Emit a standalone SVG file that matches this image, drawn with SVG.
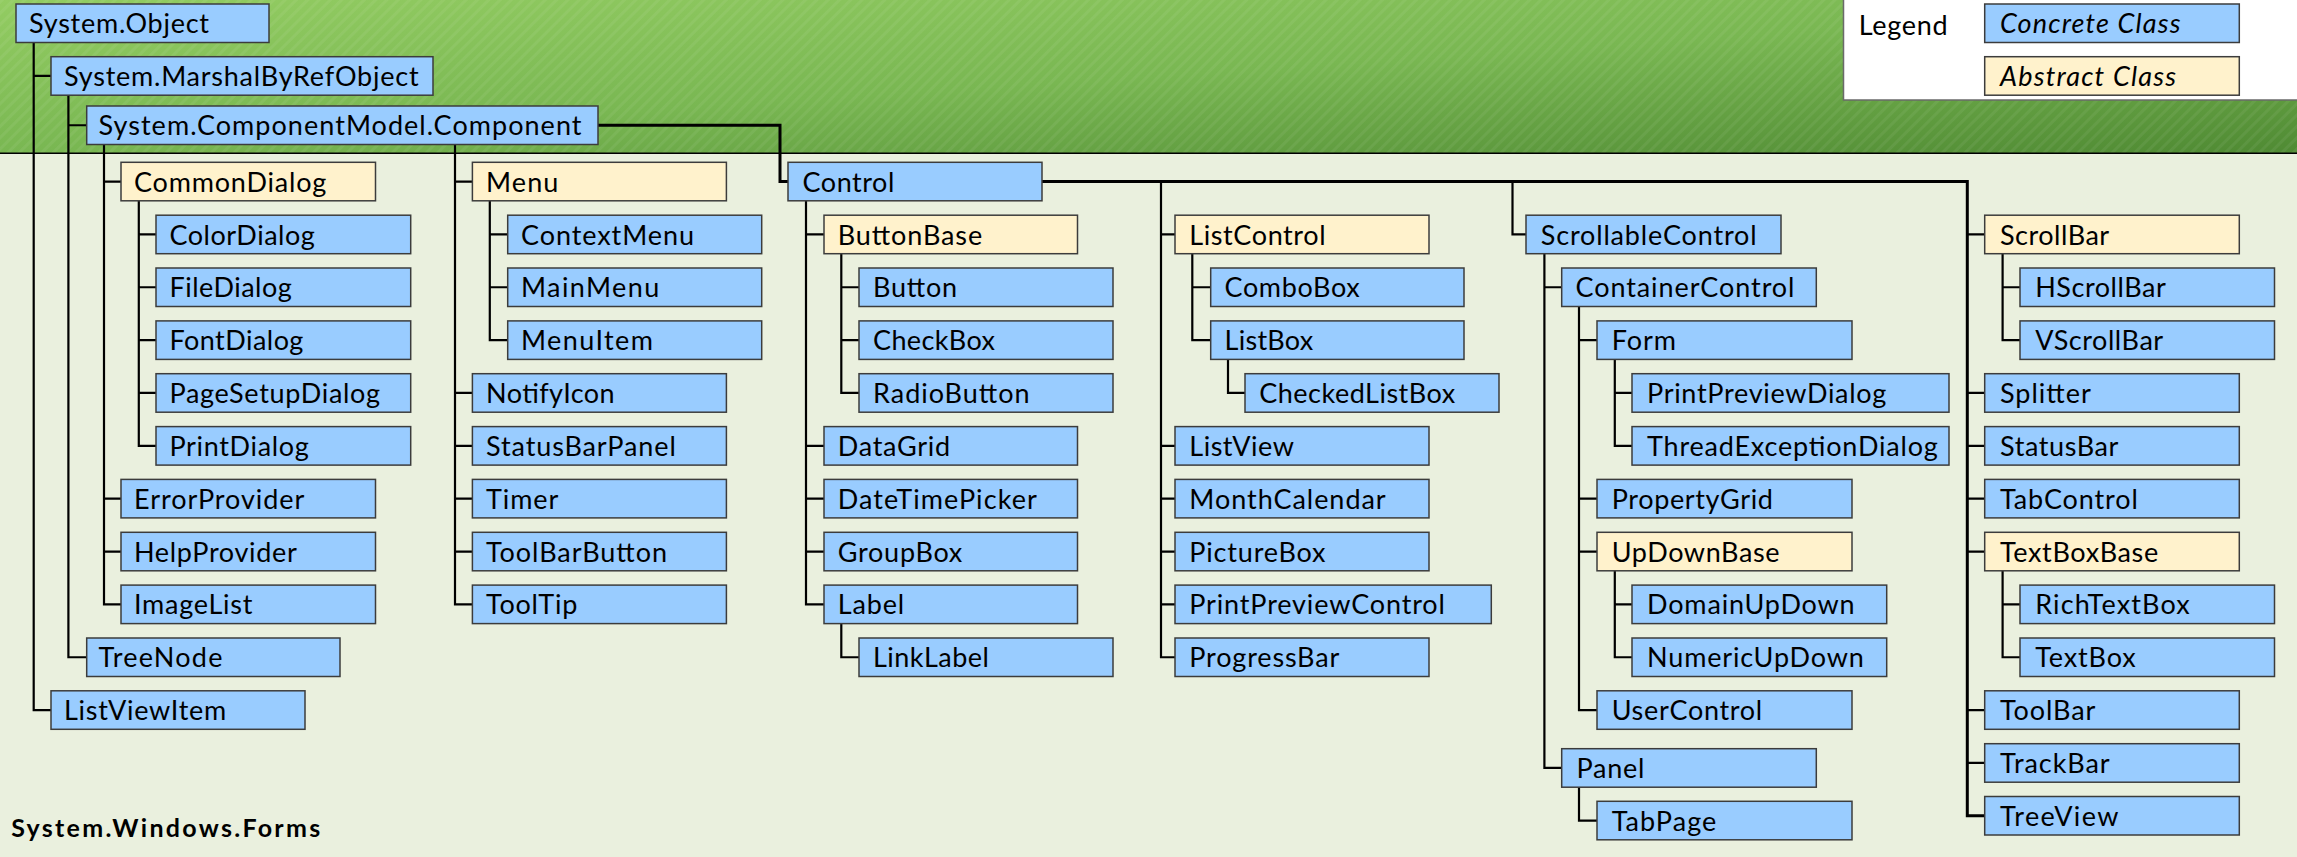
<svg xmlns="http://www.w3.org/2000/svg" width="2297" height="857" viewBox="0 0 2297 857">
<defs>
<linearGradient id="gtop" x1="0" y1="0" x2="1" y2="1">
<stop offset="0" stop-color="#93cc62"/>
<stop offset="0.5" stop-color="#79b752"/>
<stop offset="1" stop-color="#4f8a33"/>
</linearGradient>
<pattern id="hatch" patternUnits="userSpaceOnUse" width="8" height="8" patternTransform="rotate(-45)">
<rect width="8" height="3" fill="#ffffff" fill-opacity="0.06"/>
</pattern>
<style>
.c{fill:#99ccff;stroke:#3c3c3c;stroke-width:1.5}
.a{fill:#fff2cc;stroke:#3c3c3c;stroke-width:1.5}
.t{font-family:Lato,"Liberation Sans",sans-serif;font-size:27px;fill:#000}
.i{font-style:italic}
.b{font-weight:bold;font-size:25px}
.ln{fill:none;stroke:#000;stroke-width:2.2}
.lt{fill:none;stroke:#000;stroke-width:3}
</style>
</defs>
<rect x="0" y="0" width="2297" height="857" fill="#eaf0de"/>
<rect x="0" y="0" width="2297" height="153" fill="url(#gtop)"/>
<rect x="0" y="0" width="2297" height="153" fill="url(#hatch)"/>
<line x1="0" y1="153.3" x2="2297" y2="153.3" stroke="#000" stroke-width="1.5"/>
<g id="legend">
<rect x="1843.5" y="-1" width="455" height="101" fill="#ffffff" stroke="#6a6a6a" stroke-width="1.5"/>
<text class="t" x="1858.7" y="35" textLength="88.8" lengthAdjust="spacing">Legend</text>
<rect class="c" x="1984.7" y="4" width="254.6" height="38.5"/>
<text class="t i" x="2000" y="33.3" textLength="180.6" lengthAdjust="spacing">Concrete Class</text>
<rect class="a" x="1984.7" y="56.7" width="254.6" height="38.5"/>
<text class="t i" x="2000" y="86" textLength="176" lengthAdjust="spacing">Abstract Class</text>
</g>
<text class="t b" x="11.2" y="836.7" textLength="309" lengthAdjust="spacing">System.Windows.Forms</text>
<g id="connectors">
<path class="ln" d="M33.7,42.5V710.05H51M33.7,75.95H51"/>
<path class="ln" d="M68.4,95.2V657.25H86.7M68.4,125.25H86.7"/>
<path class="ln" d="M104,144.5V604.35H121M104,181.55H121M104,498.65H121M104,551.55H121"/>
<path class="ln" d="M138.8,200.8V445.85H156M138.8,234.45H156M138.8,287.25H156M138.8,340.15H156M138.8,392.95H156"/>
<path class="ln" d="M455,144.5V604.35H472.4M455,181.55H472.4M455,392.95H472.4M455,445.85H472.4M455,498.65H472.4M455,551.55H472.4"/>
<path class="ln" d="M489.8,200.8V340.15H507.7M489.8,234.45H507.7M489.8,287.25H507.7"/>
<path class="lt" d="M598,125.25H780V181.55H788"/>
<path class="ln" d="M806,200.8V604.35H824M806,234.45H824M806,445.85H824M806,498.65H824M806,551.55H824"/>
<path class="ln" d="M841.3,253.7V392.95H859M841.3,287.25H859M841.3,340.15H859"/>
<path class="ln" d="M841.3,623.6V657.25H859"/>
<path class="lt" d="M1042,181.55H1967.3V815.75H1984.7"/>
<path class="ln" d="M1161,181.55V657.25H1175M1161,234.45H1175M1161,445.85H1175M1161,498.65H1175M1161,551.55H1175M1161,604.35H1175"/>
<path class="ln" d="M1192.3,253.7V340.15H1210.7M1192.3,287.25H1210.7"/>
<path class="ln" d="M1228,359.4V392.95H1245"/>
<path class="ln" d="M1512.5,181.55V234.45H1526"/>
<path class="ln" d="M1544.4,253.7V767.95H1561.7M1544.4,287.25H1561.7"/>
<path class="ln" d="M1579,306.5V710.05H1597M1579,340.15H1597M1579,498.65H1597M1579,551.55H1597"/>
<path class="ln" d="M1614.8,359.4V445.85H1632M1614.8,392.95H1632"/>
<path class="ln" d="M1614.8,570.8V657.25H1632M1614.8,604.35H1632"/>
<path class="ln" d="M1579,787.2V820.55H1597"/>
<path class="ln" d="M1967.3,234.45H1984.7M1967.3,392.95H1984.7M1967.3,445.85H1984.7M1967.3,498.65H1984.7M1967.3,551.55H1984.7M1967.3,710.05H1984.7M1967.3,762.95H1984.7"/>
<path class="ln" d="M2002.6,253.7V340.15H2020M2002.6,287.25H2020"/>
<path class="ln" d="M2002.6,570.8V657.25H2020M2002.6,604.35H2020"/>
</g>
<g id="n-object"><rect class="c" x="16" y="4" width="253" height="38.5"/><text class="t" x="29" y="33.3" textLength="180" lengthAdjust="spacing">System.Object</text></g>
<g id="n-marshal"><rect class="c" x="51" y="56.7" width="382" height="38.5"/><text class="t" x="64" y="86" textLength="354.6" lengthAdjust="spacing">System.MarshalByRefObject</text></g>
<g id="n-component"><rect class="c" x="86.7" y="106" width="511.3" height="38.5"/><text class="t" x="98.5" y="135.3" textLength="483" lengthAdjust="spacing">System.ComponentModel.Component</text></g>
<g id="n-commondialog"><rect class="a" x="121" y="162.3" width="254.5" height="38.5"/><text class="t" x="134" y="191.6" textLength="192.3" lengthAdjust="spacing">CommonDialog</text></g>
<g id="n-colordialog"><rect class="c" x="156" y="215.2" width="254.7" height="38.5"/><text class="t" x="169.4" y="244.5" textLength="145.4" lengthAdjust="spacing">ColorDialog</text></g>
<g id="n-filedialog"><rect class="c" x="156" y="268" width="254.7" height="38.5"/><text class="t" x="169.4" y="297.3" textLength="122.4" lengthAdjust="spacing">FileDialog</text></g>
<g id="n-fontdialog"><rect class="c" x="156" y="320.9" width="254.7" height="38.5"/><text class="t" x="169.4" y="350.2" textLength="134" lengthAdjust="spacing">FontDialog</text></g>
<g id="n-pagesetupdialog"><rect class="c" x="156" y="373.7" width="254.7" height="38.5"/><text class="t" x="169.4" y="403" textLength="210.7" lengthAdjust="spacing">PageSetupDialog</text></g>
<g id="n-printdialog"><rect class="c" x="156" y="426.6" width="254.7" height="38.5"/><text class="t" x="169.4" y="455.9" textLength="139.3" lengthAdjust="spacing">PrintDialog</text></g>
<g id="n-errorprovider"><rect class="c" x="121" y="479.4" width="254.5" height="38.5"/><text class="t" x="134" y="508.7" textLength="170.4" lengthAdjust="spacing">ErrorProvider</text></g>
<g id="n-helpprovider"><rect class="c" x="121" y="532.3" width="254.5" height="38.5"/><text class="t" x="134" y="561.6" textLength="162.8" lengthAdjust="spacing">HelpProvider</text></g>
<g id="n-imagelist"><rect class="c" x="121" y="585.1" width="254.5" height="38.5"/><text class="t" x="134" y="614.4" textLength="118.4" lengthAdjust="spacing">ImageList</text></g>
<g id="n-treenode"><rect class="c" x="86.7" y="638" width="253.3" height="38.5"/><text class="t" x="98.5" y="667.3" textLength="124" lengthAdjust="spacing">TreeNode</text></g>
<g id="n-listviewitem"><rect class="c" x="51" y="690.8" width="254" height="38.5"/><text class="t" x="64" y="720.1" textLength="162.2" lengthAdjust="spacing">ListViewItem</text></g>
<g id="n-menu"><rect class="a" x="472.4" y="162.3" width="254" height="38.5"/><text class="t" x="486" y="191.6" textLength="72.4" lengthAdjust="spacing">Menu</text></g>
<g id="n-contextmenu"><rect class="c" x="507.7" y="215.2" width="254" height="38.5"/><text class="t" x="521" y="244.5" textLength="173" lengthAdjust="spacing">ContextMenu</text></g>
<g id="n-mainmenu"><rect class="c" x="507.7" y="268" width="254" height="38.5"/><text class="t" x="521" y="297.3" textLength="138.3" lengthAdjust="spacing">MainMenu</text></g>
<g id="n-menuitem"><rect class="c" x="507.7" y="320.9" width="254" height="38.5"/><text class="t" x="521" y="350.2" textLength="132" lengthAdjust="spacing">MenuItem</text></g>
<g id="n-notifyicon"><rect class="c" x="472.4" y="373.7" width="254" height="38.5"/><text class="t" x="486" y="403" textLength="128.6" lengthAdjust="spacing">NotifyIcon</text></g>
<g id="n-statusbarpanel"><rect class="c" x="472.4" y="426.6" width="254" height="38.5"/><text class="t" x="486" y="455.9" textLength="189.8" lengthAdjust="spacing">StatusBarPanel</text></g>
<g id="n-timer"><rect class="c" x="472.4" y="479.4" width="254" height="38.5"/><text class="t" x="486" y="508.7" textLength="72.4" lengthAdjust="spacing">Timer</text></g>
<g id="n-toolbarbutton"><rect class="c" x="472.4" y="532.3" width="254" height="38.5"/><text class="t" x="486" y="561.6" textLength="181" lengthAdjust="spacing">ToolBarButton</text></g>
<g id="n-tooltip"><rect class="c" x="472.4" y="585.1" width="254" height="38.5"/><text class="t" x="486" y="614.4" textLength="91.3" lengthAdjust="spacing">ToolTip</text></g>
<g id="n-control"><rect class="c" x="788" y="162.3" width="254" height="38.5"/><text class="t" x="802.5" y="191.6" textLength="91.8" lengthAdjust="spacing">Control</text></g>
<g id="n-buttonbase"><rect class="a" x="824" y="215.2" width="253.5" height="38.5"/><text class="t" x="837.8" y="244.5" textLength="144.4" lengthAdjust="spacing">ButtonBase</text></g>
<g id="n-button"><rect class="c" x="859" y="268" width="254" height="38.5"/><text class="t" x="873" y="297.3" textLength="84.2" lengthAdjust="spacing">Button</text></g>
<g id="n-checkbox"><rect class="c" x="859" y="320.9" width="254" height="38.5"/><text class="t" x="873" y="350.2" textLength="122" lengthAdjust="spacing">CheckBox</text></g>
<g id="n-radiobutton"><rect class="c" x="859" y="373.7" width="254" height="38.5"/><text class="t" x="873" y="403" textLength="156.6" lengthAdjust="spacing">RadioButton</text></g>
<g id="n-datagrid"><rect class="c" x="824" y="426.6" width="253.5" height="38.5"/><text class="t" x="837.8" y="455.9" textLength="112.2" lengthAdjust="spacing">DataGrid</text></g>
<g id="n-datetimepicker"><rect class="c" x="824" y="479.4" width="253.5" height="38.5"/><text class="t" x="837.8" y="508.7" textLength="199" lengthAdjust="spacing">DateTimePicker</text></g>
<g id="n-groupbox"><rect class="c" x="824" y="532.3" width="253.5" height="38.5"/><text class="t" x="837.8" y="561.6" textLength="124.5" lengthAdjust="spacing">GroupBox</text></g>
<g id="n-label"><rect class="c" x="824" y="585.1" width="253.5" height="38.5"/><text class="t" x="837.8" y="614.4" textLength="66.3" lengthAdjust="spacing">Label</text></g>
<g id="n-linklabel"><rect class="c" x="859" y="638" width="254" height="38.5"/><text class="t" x="873" y="667.3" textLength="115.8" lengthAdjust="spacing">LinkLabel</text></g>
<g id="n-listcontrol"><rect class="a" x="1175" y="215.2" width="254" height="38.5"/><text class="t" x="1189.3" y="244.5" textLength="136.2" lengthAdjust="spacing">ListControl</text></g>
<g id="n-combobox"><rect class="c" x="1210.7" y="268" width="253.3" height="38.5"/><text class="t" x="1224.5" y="297.3" textLength="135.2" lengthAdjust="spacing">ComboBox</text></g>
<g id="n-listbox"><rect class="c" x="1210.7" y="320.9" width="253.3" height="38.5"/><text class="t" x="1224.5" y="350.2" textLength="88.8" lengthAdjust="spacing">ListBox</text></g>
<g id="n-checkedlistbox"><rect class="c" x="1245" y="373.7" width="254" height="38.5"/><text class="t" x="1259.2" y="403" textLength="196" lengthAdjust="spacing">CheckedListBox</text></g>
<g id="n-listview"><rect class="c" x="1175" y="426.6" width="254" height="38.5"/><text class="t" x="1189.3" y="455.9" textLength="104.6" lengthAdjust="spacing">ListView</text></g>
<g id="n-monthcalendar"><rect class="c" x="1175" y="479.4" width="254" height="38.5"/><text class="t" x="1189.3" y="508.7" textLength="196.4" lengthAdjust="spacing">MonthCalendar</text></g>
<g id="n-picturebox"><rect class="c" x="1175" y="532.3" width="254" height="38.5"/><text class="t" x="1189.3" y="561.6" textLength="136.2" lengthAdjust="spacing">PictureBox</text></g>
<g id="n-printpreviewcontrol"><rect class="c" x="1175" y="585.1" width="316.3" height="38.5"/><text class="t" x="1189.3" y="614.4" textLength="255.6" lengthAdjust="spacing">PrintPreviewControl</text></g>
<g id="n-progressbar"><rect class="c" x="1175" y="638" width="254" height="38.5"/><text class="t" x="1189.3" y="667.3" textLength="150" lengthAdjust="spacing">ProgressBar</text></g>
<g id="n-scrollablecontrol"><rect class="c" x="1526" y="215.2" width="255" height="38.5"/><text class="t" x="1540.8" y="244.5" textLength="215.8" lengthAdjust="spacing">ScrollableControl</text></g>
<g id="n-containercontrol"><rect class="c" x="1561.7" y="268" width="254.6" height="38.5"/><text class="t" x="1575.5" y="297.3" textLength="218.9" lengthAdjust="spacing">ContainerControl</text></g>
<g id="n-form"><rect class="c" x="1597" y="320.9" width="255" height="38.5"/><text class="t" x="1611.7" y="350.2" textLength="64.3" lengthAdjust="spacing">Form</text></g>
<g id="n-printpreviewdialog"><rect class="c" x="1632" y="373.7" width="317" height="38.5"/><text class="t" x="1647" y="403" textLength="239.3" lengthAdjust="spacing">PrintPreviewDialog</text></g>
<g id="n-threadexceptiondialog"><rect class="c" x="1632" y="426.6" width="317" height="38.5"/><text class="t" x="1647" y="455.9" textLength="290.8" lengthAdjust="spacing">ThreadExceptionDialog</text></g>
<g id="n-propertygrid"><rect class="c" x="1597" y="479.4" width="255" height="38.5"/><text class="t" x="1611.7" y="508.7" textLength="161.2" lengthAdjust="spacing">PropertyGrid</text></g>
<g id="n-updownbase"><rect class="a" x="1597" y="532.3" width="255" height="38.5"/><text class="t" x="1611.7" y="561.6" textLength="167.9" lengthAdjust="spacing">UpDownBase</text></g>
<g id="n-domainupdown"><rect class="c" x="1632" y="585.1" width="254.7" height="38.5"/><text class="t" x="1647" y="614.4" textLength="207.7" lengthAdjust="spacing">DomainUpDown</text></g>
<g id="n-numericupdown"><rect class="c" x="1632" y="638" width="254.7" height="38.5"/><text class="t" x="1647" y="667.3" textLength="216.8" lengthAdjust="spacing">NumericUpDown</text></g>
<g id="n-usercontrol"><rect class="c" x="1597" y="690.8" width="255" height="38.5"/><text class="t" x="1611.7" y="720.1" textLength="150.5" lengthAdjust="spacing">UserControl</text></g>
<g id="n-panel"><rect class="c" x="1561.7" y="748.7" width="254.6" height="38.5"/><text class="t" x="1576.5" y="778" textLength="67.9" lengthAdjust="spacing">Panel</text></g>
<g id="n-tabpage"><rect class="c" x="1597" y="801.3" width="255" height="38.5"/><text class="t" x="1611.7" y="830.6" textLength="104.6" lengthAdjust="spacing">TabPage</text></g>
<g id="n-scrollbar"><rect class="a" x="1984.7" y="215.2" width="254.6" height="38.5"/><text class="t" x="2000" y="244.5" textLength="109.2" lengthAdjust="spacing">ScrollBar</text></g>
<g id="n-hscrollbar"><rect class="c" x="2020" y="268" width="254.5" height="38.5"/><text class="t" x="2035.2" y="297.3" textLength="130.6" lengthAdjust="spacing">HScrollBar</text></g>
<g id="n-vscrollbar"><rect class="c" x="2020" y="320.9" width="254.5" height="38.5"/><text class="t" x="2035.2" y="350.2" textLength="128" lengthAdjust="spacing">VScrollBar</text></g>
<g id="n-splitter"><rect class="c" x="1984.7" y="373.7" width="254.6" height="38.5"/><text class="t" x="2000" y="403" textLength="90.8" lengthAdjust="spacing">Splitter</text></g>
<g id="n-statusbar"><rect class="c" x="1984.7" y="426.6" width="254.6" height="38.5"/><text class="t" x="2000" y="455.9" textLength="118.4" lengthAdjust="spacing">StatusBar</text></g>
<g id="n-tabcontrol"><rect class="c" x="1984.7" y="479.4" width="254.6" height="38.5"/><text class="t" x="2000" y="508.7" textLength="137.8" lengthAdjust="spacing">TabControl</text></g>
<g id="n-textboxbase"><rect class="a" x="1984.7" y="532.3" width="254.6" height="38.5"/><text class="t" x="2000" y="561.6" textLength="158.2" lengthAdjust="spacing">TextBoxBase</text></g>
<g id="n-richtextbox"><rect class="c" x="2020" y="585.1" width="254.5" height="38.5"/><text class="t" x="2035.2" y="614.4" textLength="154.6" lengthAdjust="spacing">RichTextBox</text></g>
<g id="n-textbox"><rect class="c" x="2020" y="638" width="254.5" height="38.5"/><text class="t" x="2035.2" y="667.3" textLength="100.5" lengthAdjust="spacing">TextBox</text></g>
<g id="n-toolbar"><rect class="c" x="1984.7" y="690.8" width="254.6" height="38.5"/><text class="t" x="2000" y="720.1" textLength="95.4" lengthAdjust="spacing">ToolBar</text></g>
<g id="n-trackbar"><rect class="c" x="1984.7" y="743.7" width="254.6" height="38.5"/><text class="t" x="2000" y="773" textLength="109.7" lengthAdjust="spacing">TrackBar</text></g>
<g id="n-treeview"><rect class="c" x="1984.7" y="796.5" width="254.6" height="38.5"/><text class="t" x="2000" y="825.8" textLength="118.4" lengthAdjust="spacing">TreeView</text></g>
</svg>
